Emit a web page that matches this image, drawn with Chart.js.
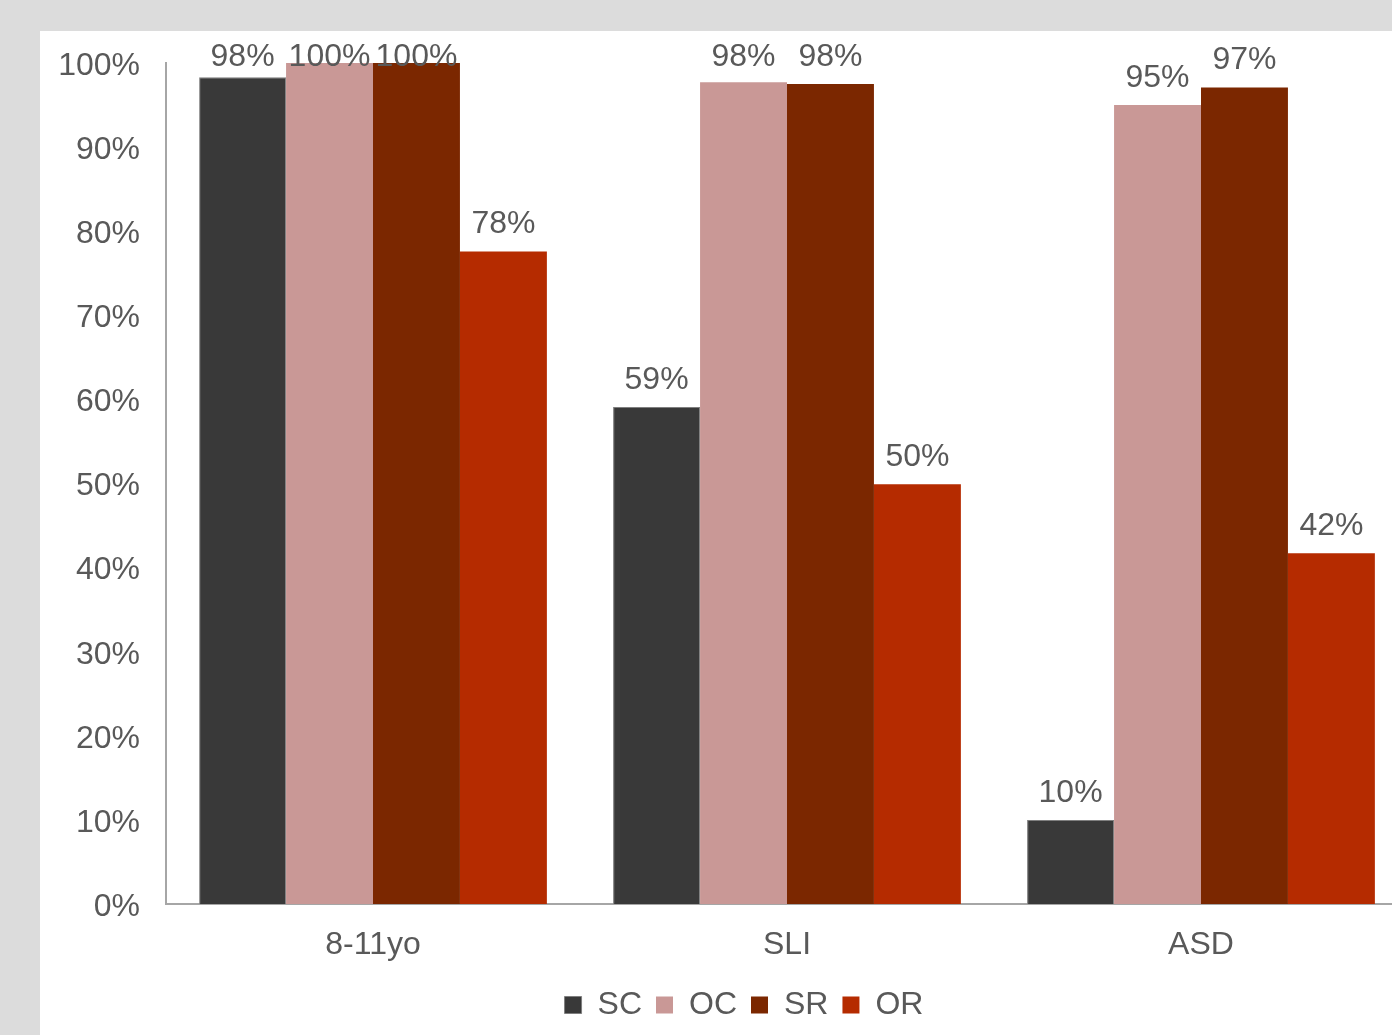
<!DOCTYPE html>
<html>
<head>
<meta charset="utf-8">
<script src="https://cdn.jsdelivr.net/npm/chart.js@4"></script>
<style>
  html, body { margin: 0; padding: 0; background: #dcdcdc; overflow: hidden; }
  #wrap { position: absolute; left: 40px; top: 31px; width: 1352px; height: 1004px; background: #fff; overflow: hidden; }
  #box { position: absolute; left: 0; top: 0; width: 1380px; height: 1004px; }
</style>
</head>
<body>
<div id="wrap"><div id="box"><canvas id="myChart"></canvas></div></div>
<script>
const categories = ['8-11yo', 'SLI', 'ASD']
const sc = [98.3, 59.1, 10.0]
const oc = [100, 97.7, 95.0]
const sr = [100, 97.5, 97.1]
const or = [77.6, 49.9, 41.7]
const yTicks = [0, 10, 20, 30, 40, 50, 60, 70, 80, 90, 100]

const textColor = '#595959'
const fontFam = '"Liberation Sans", Arial, sans-serif'

// value labels above each bar, kept from going too far above the plot
const barLabels = {
    id: 'barLabels',
    afterDatasetsDraw(chart) {
        const c = chart.ctx
        const top = chart.chartArea.top
        c.save()
        c.font = '32px ' + fontFam
        c.fillStyle = textColor
        c.textAlign = 'center'
        c.textBaseline = 'alphabetic'
        chart.data.datasets.forEach((ds, i) => {
            chart.getDatasetMeta(i).data.forEach((el, j) => {
                let y = Math.max(el.y - 18, top + 3)
                c.fillText(Math.round(ds.data[j]) + '%', el.x, y)
            })
        })
        c.restore()
    }
}

// nudge the legend a bit right, like the original
const legendShift = {
    id: 'legendShift',
    afterLayout(chart) {
        if (chart.legend) {
            chart.legend.left += 20
            chart.legend.right += 20
        }
    }
}

const ctx = document.getElementById('myChart')
const config = {
    type: 'bar',
    data: {
        labels: categories,
        datasets: [
            { label: 'SC', data: sc, backgroundColor: '#393939', borderColor: '#7f7f7f', borderWidth: 1 },
            { label: 'OC', data: oc, backgroundColor: '#c99896' },
            { label: 'SR', data: sr, backgroundColor: '#7b2700' },
            { label: 'OR', data: or, backgroundColor: '#b52b00' }
        ]
    },
    options: {
        responsive: true,
        maintainAspectRatio: false,
        animation: false,
        datasets: { bar: { barPercentage: 1, categoryPercentage: 0.84 } },
        layout: { padding: { top: 32, right: 12, left: 0, bottom: 4 } },
        scales: {
            x: {
                grid: { display: false, drawTicks: false },
                border: { color: '#a6a6a6', width: 2 },
                ticks: { color: textColor, font: { size: 32, family: fontFam }, padding: 22 },
                afterFit(s) { s.height = 71 }
            },
            y: {
                min: 0,
                max: 100,
                afterBuildTicks(s) { s.ticks = yTicks.map(v => ({ value: v })) },
                grid: { display: false, drawTicks: false },
                border: { color: '#a6a6a6', width: 2 },
                ticks: { color: textColor, font: { size: 32, family: fontFam }, padding: 26, labelOffset: 3, callback: v => v + '%' },
                afterFit(s) { s.width = 126; s.paddingTop = 0; s.paddingBottom = 0 }
            }
        },
        plugins: {
            tooltip: { enabled: false },
            legend: {
                position: 'bottom',
                labels: {
                    color: textColor,
                    font: { size: 32, family: fontFam },
                    boxWidth: 17,
                    boxHeight: 17,
                    padding: 14
                }
            }
        }
    },
    plugins: [barLabels, legendShift]
}
const charts = new Chart(ctx, config)
</script>
</body>
</html>
